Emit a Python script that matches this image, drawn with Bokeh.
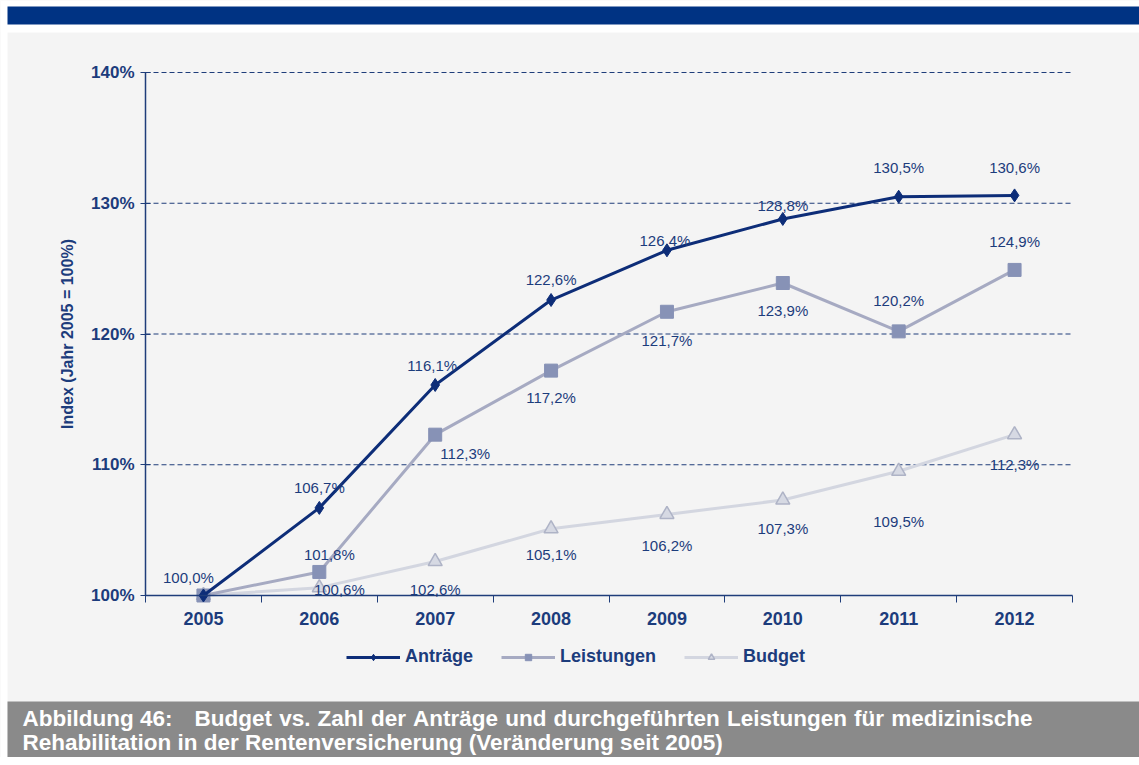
from bokeh.plotting import figure
from bokeh.models import (ColumnDataSource, Range1d, FixedTicker, Legend, LegendItem,
                          PrintfTickFormatter, Label, BoxAnnotation)
from bokeh.core.properties import value
from bokeh.embed import file_html
from bokeh.resources import INLINE

# ---------------- data ----------------
years = [2005, 2006, 2007, 2008, 2009, 2010, 2011, 2012]
antraege = [100.0, 106.7, 116.1, 122.6, 126.4, 128.8, 130.5, 130.6]
leistungen = [100.0, 101.8, 112.3, 117.2, 121.7, 123.9, 120.2, 124.9]
budget = [100.0, 100.6, 102.6, 105.1, 106.2, 107.3, 109.5, 112.3]
y_ticks = [100, 110, 120, 130, 140]
series_names = ["Anträge", "Leistungen", "Budget"]
y_title = "Index (Jahr 2005 = 100%)"
caption_num = "Abbildung 46:"
caption_l1 = "Budget vs. Zahl der Anträge und durchgeführten Leistungen für medizinische"
caption_l2 = "Rehabilitation in der Rentenversicherung (Veränderung seit 2005)"

# label offsets (screen px, style only)
ant_dx = [-15, 0, -3, 0, -2, 0, 0, 0]
ant_dy = [-18, -20, -19, -21, -10, -13, -29, -28]
lei_dx = [10, 30, 0, 0, 0, 0, 0]
lei_dy = [-17, 19, 27, 29, 27, -31, -28]
bud_dx = [20, 0, 0, 0, 0, 0, 0]
bud_dy = [2, 28, 26, 31, 28, 50, 30]

FN = "Liberation Sans"
FONT = value(FN)
NAVY = "#0d2d78"
AXC = "#1f3d7a"
TXT = "#1c3c7c"
PANEL = "#f4f4f4"
W, H = 1139, 757
CAP_FS = 22.5

# plot-area placement inside the canvas (pixels)
PL, PR, PT, PB = 145, 1072, 72, 595
x0, x1 = years[0] - 0.5, years[-1] + 0.5
y0, y1 = y_ticks[0], y_ticks[-1]
sx = (x1 - x0) / (PR - PL)
sy = (y1 - y0) / (PB - PT)


def xd(px):
    return x0 + (px - PL) * sx


def yd(px):
    return y0 + (PB - px) * sy


def fmt(v):
    return f"{v:.1f}".replace(".", ",") + "%"


# Arial/Liberation Sans Bold advance widths (1/1000 em) for the justified caption line
AW = {"A": 722, "B": 722, "L": 611, "Z": 611, "a": 556, "ä": 556, "b": 611, "c": 556,
      "d": 611, "e": 556, "f": 333, "g": 611, "h": 611, "i": 278, "l": 278, "m": 889,
      "n": 611, "r": 389, "s": 556, "t": 333, "u": 611, "ü": 611, "v": 556, "z": 500,
      ".": 278, ":": 333, "4": 556, "6": 556, " ": 278}


def tw(word):
    return sum(AW.get(c, 556) for c in word) * CAP_FS / 1000.0


p = figure(width=W, height=H, output_backend="svg", toolbar_location=None,
           x_range=Range1d(xd(0), xd(W)), y_range=Range1d(yd(H), yd(0)),
           min_border=0)
p.background_fill_color = PANEL
p.border_fill_color = PANEL
p.outline_line_color = None
p.grid.visible = False


# decorative bands
def band(top, bottom, color, left=None, right=None):
    p.add_layout(BoxAnnotation(top=yd(top), bottom=yd(bottom),
                               left=None if left is None else xd(left),
                               right=None if right is None else xd(right),
                               fill_color=color, fill_alpha=1, line_color=None))


band(0, 32, "white")
band(0, H, "white", right=7)
band(6, 24, "#003383", left=7)
band(701, H, "#8a8a8a", left=7)


def cap_label(x, y, t):
    p.add_layout(Label(x=xd(x), y=yd(y), text=t,
                       text_font=FN, text_font_size=f"{CAP_FS}px", text_font_style="bold",
                       text_color="white", text_baseline="middle", text_align="left"))


# caption line 1 is justified (word spacing slightly widened to reach the right margin)
l1_words = caption_l1.split(" ")
L1_START, L1_END = 22, 1032
BUD_START = L1_START + tw(caption_num) + 22
gap = (L1_END - BUD_START - sum(tw(w) for w in l1_words)) / (len(l1_words) - 1)
cap_label(L1_START, 718, caption_num)
xx = BUD_START
for w in l1_words:
    cap_label(xx, 718, w)
    xx += tw(w) + gap
cap_label(L1_START, 742, caption_l2)

# dashed horizontal grid lines across the plot area
grid_y = y_ticks[1:]
p.segment(x0=[x0] * len(grid_y), x1=[x1] * len(grid_y), y0=grid_y, y1=grid_y,
          line_color=AXC, line_dash="5 3", line_width=1)

xa = p.xaxis[0]
xa.fixed_location = y0
xa.bounds = (x0, x1)
xa.ticker = FixedTicker(ticks=years, minor_ticks=[y - 0.5 for y in years] + [x1])
xa.major_tick_out = 0
xa.major_tick_in = 0
xa.minor_tick_out = 7
xa.minor_tick_in = 0
xa.minor_tick_line_color = AXC
xa.axis_line_color = AXC
xa.axis_line_width = 1.5
xa.major_label_text_font = FN
xa.major_label_text_font_size = "18px"
xa.major_label_text_font_style = "bold"
xa.major_label_text_color = TXT
xa.major_label_standoff = 9

ya = p.yaxis[0]
ya.fixed_location = x0
ya.bounds = (y0, y1)
ya.ticker = FixedTicker(ticks=y_ticks, minor_ticks=[])
ya.formatter = PrintfTickFormatter(format="%d%%")
ya.major_tick_in = 5
ya.major_tick_out = 5
ya.major_tick_line_color = AXC
ya.axis_line_color = AXC
ya.axis_line_width = 1.5
ya.major_label_text_font = FN
ya.major_label_text_font_size = "17px"
ya.major_label_text_font_style = "bold"
ya.major_label_text_color = TXT
ya.major_label_standoff = 6
ya.axis_label = y_title
ya.axis_label_text_font = FN
ya.axis_label_text_font_size = "16px"
ya.axis_label_text_font_style = "bold"
ya.axis_label_text_color = TXT
ya.axis_label_standoff = 12

src_a = ColumnDataSource(dict(x=years, y=antraege))
src_l = ColumnDataSource(dict(x=years, y=leistungen))
src_b = ColumnDataSource(dict(x=years, y=budget))

lb = p.line("x", "y", source=src_b, line_color="#d3d6e0", line_width=3)
sb = p.scatter("x", "y", source=src_b, marker="triangle", size=14,
               fill_color="#d6d9e3", line_color="#aeb3c6", line_width=1.5)
ll = p.line("x", "y", source=src_l, line_color="#a6aac2", line_width=3)
sl = p.scatter("x", "y", source=src_l, marker="square", size=13,
               fill_color="#8792b6", line_color="#8792b6")
la = p.line("x", "y", source=src_a, line_color=NAVY, line_width=3)
sa = p.scatter("x", "y", source=src_a, marker="diamond", size=13,
               fill_color=NAVY, line_color=NAVY)

lab_a = ColumnDataSource(dict(x=years, y=antraege, t=[fmt(v) for v in antraege],
                              dx=ant_dx, dy=ant_dy))
lab_l = ColumnDataSource(dict(x=years[1:], y=leistungen[1:], t=[fmt(v) for v in leistungen[1:]],
                              dx=lei_dx, dy=lei_dy))
lab_b = ColumnDataSource(dict(x=years[1:], y=budget[1:], t=[fmt(v) for v in budget[1:]],
                              dx=bud_dx, dy=bud_dy))
for s in (lab_b, lab_l, lab_a):
    p.text("x", "y", text="t", x_offset="dx", y_offset="dy", source=s,
           text_align="center", text_baseline="middle", text_font=FONT,
           text_font_size="15px", text_color=TXT)

legend = Legend(items=[LegendItem(label=series_names[0], renderers=[la, sa]),
                       LegendItem(label=series_names[1], renderers=[ll, sl]),
                       LegendItem(label=series_names[2], renderers=[lb, sb])],
                orientation="horizontal", location=(340, 84))
legend.background_fill_alpha = 0
legend.border_line_alpha = 0
legend.label_text_font = FN
legend.label_text_font_size = "18px"
legend.label_text_font_style = "bold"
legend.label_text_color = TXT
legend.glyph_width = 54
legend.glyph_height = 16
legend.spacing = 28
legend.label_standoff = 5
legend.margin = 0
legend.padding = 6
p.add_layout(legend)

open("out.html", "w").write(file_html(p, INLINE))
